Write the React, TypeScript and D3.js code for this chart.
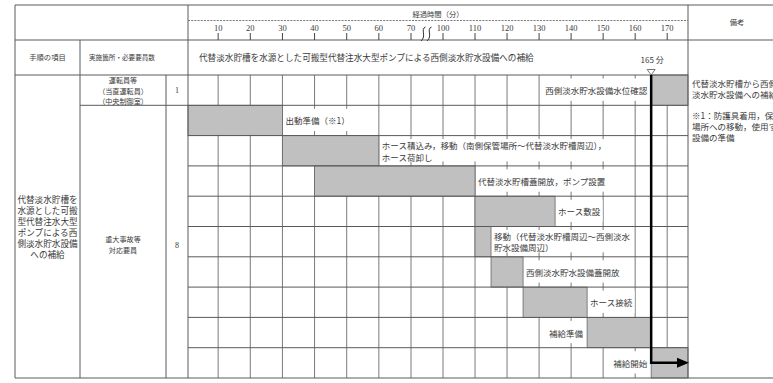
import React from "react";
import * as d3 from "d3";

// ---- data ----
const tickMinutes = [10, 20, 30, 40, 50, 60, 70, 100, 110, 120, 130, 140, 150, 160, 170];
const axisEndMinute = 176.5;
const milestoneMinute = 165;
const milestoneLabel = "165 分";
const axisTitle = "経過時間（分）";
const procedureTitle =
  "代替淡水貯槽を水源とした可搬型代替注水大型ポンプによる西側淡水貯水設備への補給";

const taskLabels = [
  "西側淡水貯水設備水位確認",
  "出動準備（※1）",
  "ホース積込み，移動（南側保管場所〜代替淡水貯槽周辺），\nホース荷卸し",
  "代替淡水貯槽蓋開放，ポンプ設置",
  "ホース敷設",
  "移動（代替淡水貯槽周辺〜西側淡水\n貯水設備周辺）",
  "西側淡水貯水設備蓋開放",
  "ホース接続",
  "補給準備",
  "補給開始",
];
const taskStart = [165, 0, 30, 40, 110, 110, 115, 125, 145, 165];
const taskEnd = [176.5, 30, 60, 110, 135, 115, 125, 145, 165, 176.5];
const labelSide = ["left", "right", "right", "right", "right", "right", "right", "right", "left", "left"];

const stepItemLines = ["代替淡水貯槽を", "水源とした可搬", "型代替注水大型", "ポンプによる西", "側淡水貯水設備", "への補給"];
const operatorLines = ["運転員等", "（当直運転員）", "（中央制御室）"];
const operatorCount = "1";
const responderLines = ["重大事故等", "対応要員"];
const responderCount = "8";
const remarkLines = [
  "代替淡水貯槽から西側",
  "淡水貯水設備への補給",
  "",
  "※1：防護具着用，保管",
  "場所への移動，使用する",
  "設備の準備",
];

// ---- layout ----
const W = 773;
const H = 383;
const left = 15;
const top = 5;
const col1 = 80;
const col2 = 166;
const gridLeft = 188;
const gridRight = 688;
const headerMid = 40;
const rowsTop = 75;
const bottom = 378;

const JP = "'Noto Sans CJK JP', 'Noto Sans', sans-serif";
const NUM = "'Liberation Serif', 'DejaVu Serif', serif";
const lineCol = "#5a5a5a";
const gridCol = "#7a7a7a";
const textCol = "#3a3a3a";
const barFill = "#c0c0c0";
const fs = 8.5;

function textWidth(s: string, size: number) {
  let w = 0;
  for (const ch of s) w += ch.charCodeAt(0) < 256 ? size * 0.55 : size;
  return w;
}

export default function App() {
  const x = d3
    .scaleLinear()
    .domain([0, 70, 100, axisEndMinute])
    .range([186, 411, 443, gridRight]);
  const y = d3
    .scaleBand<string>()
    .domain(taskLabels.map((_, i) => String(i)))
    .range([rowsTop, bottom])
    .paddingInner(0);
  const bh = y.bandwidth();

  const xm = x(milestoneMinute);
  const lastRow = String(taskLabels.length - 1);
  const arrowY = (y(lastRow) as number) + bh / 2;

  const breakX = [(x(70) + x(100)) / 2 - 4, (x(70) + x(100)) / 2 + 2];

  return (
    <svg
      width={W}
      height={H}
      style={{ position: "absolute", left: 0, top: 0, background: "#fff" }}
      xmlns="http://www.w3.org/2000/svg"
    >
      <rect x={0} y={0} width={W} height={H} fill="#fff" />

      {/* vertical grid lines in task rows */}
      {tickMinutes.map((t) => (
        <line key={"vg" + t} x1={x(t)} x2={x(t)} y1={rowsTop} y2={bottom} stroke={gridCol} strokeWidth={1} />
      ))}

      {/* bars */}
      {taskLabels.map((_, i) => {
        const x0 = Math.max(gridLeft, x(taskStart[i]));
        const x1 = Math.min(gridRight, x(taskEnd[i]));
        return (
          <rect
            key={"bar" + i}
            x={x0}
            y={y(String(i))}
            width={x1 - x0}
            height={bh}
            fill={barFill}
            stroke="#666"
            strokeWidth={0.8}
          />
        );
      })}

      {/* horizontal row lines */}
      {taskLabels.map((_, i) =>
        i === 0 ? null : (
          <line
            key={"hr" + i}
            x1={i === 1 ? col1 : gridLeft}
            x2={gridRight}
            y1={y(String(i))}
            y2={y(String(i))}
            stroke={lineCol}
            strokeWidth={1}
          />
        )
      )}

      {/* task labels with white backing */}
      {taskLabels.map((lab, i) => {
        const lines = lab.split("\n");
        const rowY = y(String(i)) as number;
        const mid = rowY + bh / 2;
        const lh = 11.5;
        const wMax = Math.max(...lines.map((l) => textWidth(l, fs)));
        const isLeft = labelSide[i] === "left";
        const anchorX = isLeft ? x(taskStart[i]) - 4 : x(taskEnd[i]) + 3;
        const bx = isLeft ? anchorX - wMax - 2 : anchorX - 1;
        return (
          <g key={"lab" + i}>
            <rect x={bx} y={rowY + 3.5} width={wMax + 3} height={bh - 8} fill="#fff" />
            {lines.map((l, k) => (
              <text
                key={k}
                x={anchorX}
                y={mid + (k - (lines.length - 1) / 2) * lh}
                textAnchor={isLeft ? "end" : "start"}
                dominantBaseline="central"
                fontFamily={JP}
                fontSize={fs}
                fill={textCol}
              >
                {l}
              </text>
            ))}
          </g>
        );
      })}

      {/* table structure */}
      <line x1={left} x2={W} y1={top} y2={top} stroke={lineCol} />
      <line x1={left} x2={W} y1={headerMid} y2={headerMid} stroke={lineCol} />
      <line x1={left} x2={gridRight} y1={rowsTop} y2={rowsTop} stroke={lineCol} />
      <line x1={left} x2={W} y1={bottom} y2={bottom} stroke={lineCol} />
      <line x1={left} x2={left} y1={top} y2={bottom} stroke={lineCol} />
      <line x1={col1} x2={col1} y1={headerMid} y2={bottom} stroke={lineCol} />
      <line x1={col2} x2={col2} y1={rowsTop} y2={bottom} stroke={lineCol} />
      <line x1={gridLeft} x2={gridLeft} y1={top} y2={bottom} stroke={lineCol} />
      <line x1={gridRight} x2={gridRight} y1={top} y2={bottom} stroke={lineCol} />

      {/* time header */}
      <text x={438} y={14} textAnchor="middle" dominantBaseline="central" fontFamily={JP} fontSize={7.3} fill={textCol}>
        {axisTitle}
      </text>
      <line x1={gridLeft} x2={gridRight} y1={20.5} y2={20.5} stroke="#777" strokeDasharray="2,1.2" />
      {tickMinutes.map((t) => (
        <g key={"tk" + t}>
          <text x={x(t)} y={27.5} textAnchor="middle" dominantBaseline="central" fontFamily={NUM} fontSize={8.5} fill={textCol}>
            {t}
          </text>
          <line x1={x(t)} x2={x(t)} y1={33} y2={headerMid} stroke="#444" />
        </g>
      ))}
      {breakX.map((bx, i) => (
        <path
          key={"brk" + i}
          d={`M ${bx + 2.5},27 C ${bx - 3},29 ${bx + 4},36 ${bx - 2},41`}
          fill="none"
          stroke="#333"
          strokeWidth={1}
        />
      ))}
      <text x={737} y={22} textAnchor="middle" dominantBaseline="central" fontFamily={JP} fontSize={7.3} fill={textCol}>
        備考
      </text>

      {/* second header row */}
      <text x={(left + col1) / 2} y={57} textAnchor="middle" dominantBaseline="central" fontFamily={JP} fontSize={7.3} fill={textCol}>
        手順の項目
      </text>
      <text x={(col1 + col2) / 2 - 1} y={57} textAnchor="middle" dominantBaseline="central" fontFamily={JP} fontSize={6.6} fill={textCol}>
        実施箇所・必要要員数
      </text>
      <text x={199} y={57} dominantBaseline="central" fontFamily={JP} fontSize={8.6} fill={textCol}>
        {procedureTitle}
      </text>
      <text x={xm + 1} y={59} textAnchor="middle" dominantBaseline="central" fontFamily={JP} fontSize={8} fill={textCol}>
        {milestoneLabel}
      </text>
      <path d={`M ${xm - 4},69.5 L ${xm + 4},69.5 L ${xm},75 Z`} fill="#fff" stroke="#555" strokeWidth={0.8} />

      {/* left columns */}
      {stepItemLines.map((l, i) => (
        <text
          key={"si" + i}
          x={(left + col1) / 2}
          y={199 + i * 10.9}
          textAnchor="middle"
          dominantBaseline="central"
          fontFamily={JP}
          fontSize={8.6}
          fill={textCol}
        >
          {l}
        </text>
      ))}
      {operatorLines.map((l, i) => (
        <text
          key={"op" + i}
          x={(col1 + col2) / 2}
          y={80 + i * 10.7}
          textAnchor="middle"
          dominantBaseline="central"
          fontFamily={JP}
          fontSize={7.1}
          fill={textCol}
        >
          {l}
        </text>
      ))}
      <text x={(col2 + gridLeft) / 2} y={90} textAnchor="middle" dominantBaseline="central" fontFamily={NUM} fontSize={8} fill={textCol}>
        {operatorCount}
      </text>
      {responderLines.map((l, i) => (
        <text
          key={"rs" + i}
          x={(col1 + col2) / 2}
          y={238.5 + i * 11.5}
          textAnchor="middle"
          dominantBaseline="central"
          fontFamily={JP}
          fontSize={7.1}
          fill={textCol}
        >
          {l}
        </text>
      ))}
      <text x={(col2 + gridLeft) / 2} y={245} textAnchor="middle" dominantBaseline="central" fontFamily={NUM} fontSize={8} fill={textCol}>
        {responderCount}
      </text>

      {/* remarks (cut off at the right edge, as in the reference) */}
      {remarkLines.map((l, i) => (
        <text key={"rm" + i} x={692} y={83 + i * 10.8} dominantBaseline="central" fontFamily={JP} fontSize={8.5} fill={textCol}>
          {l}
        </text>
      ))}

      {/* milestone arrow */}
      <path
        d={`M ${xm},${rowsTop} L ${xm},${arrowY} L ${gridRight - 10},${arrowY}`}
        fill="none"
        stroke="#000"
        strokeWidth={2.5}
      />
      <path d={`M ${gridRight - 11},${arrowY - 5} L ${gridRight + 1},${arrowY} L ${gridRight - 11},${arrowY + 5} Z`} fill="#000" />
    </svg>
  );
}
